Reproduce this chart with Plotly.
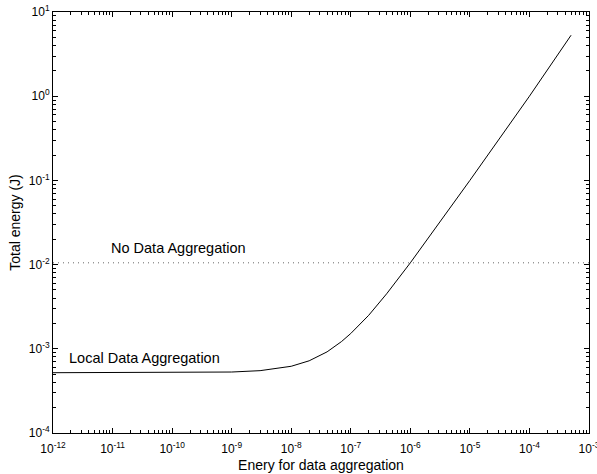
import plotly.graph_objects as go

# Data
energy_agg = [1e-12, 1e-11, 1e-10, 1e-9, 3e-9, 1e-8, 2e-8, 4e-8, 7e-8, 1e-7,
              2e-7, 4e-7, 1e-6, 1e-5, 1e-4, 5e-4]
total_local = [5.2e-4, 5.2e-4, 5.21e-4, 5.3e-4, 5.5e-4, 6.2e-4, 7.2e-4, 9.2e-4,
               1.22e-3, 1.52e-3, 2.5e-3, 4.5e-3, 1.05e-2, 1.0e-1, 1.0, 5.3]
no_agg_x = [1e-12, 1e-3]
no_agg_y = [1.05e-2, 1.05e-2]
x_exps = [-12, -11, -10, -9, -8, -7, -6, -5, -4, -3]
y_exps = [-4, -3, -2, -1, 0, 1]

FONT = "Liberation Sans, Arial, Helvetica, sans-serif"

fig = go.Figure()
fig.add_trace(go.Scatter(x=energy_agg, y=total_local, mode="lines",
                         line=dict(color="black", width=1), showlegend=False))
fig.add_trace(go.Scatter(x=no_agg_x, y=no_agg_y, mode="lines",
                         line=dict(color="#666666", width=1, dash="1px,4px"), showlegend=False))

fig.add_annotation(x=-9.894, y=-1.803, xref="x", yref="y", text="No Data Aggregation",
                   showarrow=False, xanchor="center", yanchor="middle",
                   font=dict(family=FONT, size=14.5, color="black"))
fig.add_annotation(x=-11.765, y=-3.109, xref="x", yref="y", text="Local Data Aggregation",
                   showarrow=False, xanchor="left", yanchor="middle",
                   font=dict(family=FONT, size=14.5, color="black"))

axis_common = dict(
    type="log", showgrid=False, zeroline=False, automargin=False,
    showline=True, linecolor="black", linewidth=1, mirror="ticks",
    ticks="inside", ticklen=5, tickwidth=1, tickcolor="black",
    ticklabeloverflow="allow",
    minor=dict(ticks="inside", ticklen=3, tickcolor="black", dtick="D1", showgrid=False),
    tickfont=dict(family=FONT, size=12, color="black"),
)

fig.update_layout(
    width=597, height=474,
    margin=dict(l=53, r=8, t=12, b=41),
    plot_bgcolor="white", paper_bgcolor="white",
    xaxis=dict(axis_common, range=[-12, -3], ticklabelstandoff=5,
               tickvals=[10.0 ** e for e in x_exps],
               ticktext=["10<sup>%d</sup>" % e for e in x_exps],
               title=dict(text="Enery for data aggregation", standoff=4,
                          font=dict(family=FONT, size=14, color="black"))),
    yaxis=dict(axis_common, range=[-4, 1],
               tickvals=[10.0 ** e for e in y_exps],
               ticktext=["10<sup>%d</sup>" % e for e in y_exps],
               title=dict(text="Total energy (J)", standoff=4,
                          font=dict(family=FONT, size=14, color="black"))),
)

fig.write_html("out.html", config={"displayModeBar": False},
               post_script="document.body.style.margin='0';")
